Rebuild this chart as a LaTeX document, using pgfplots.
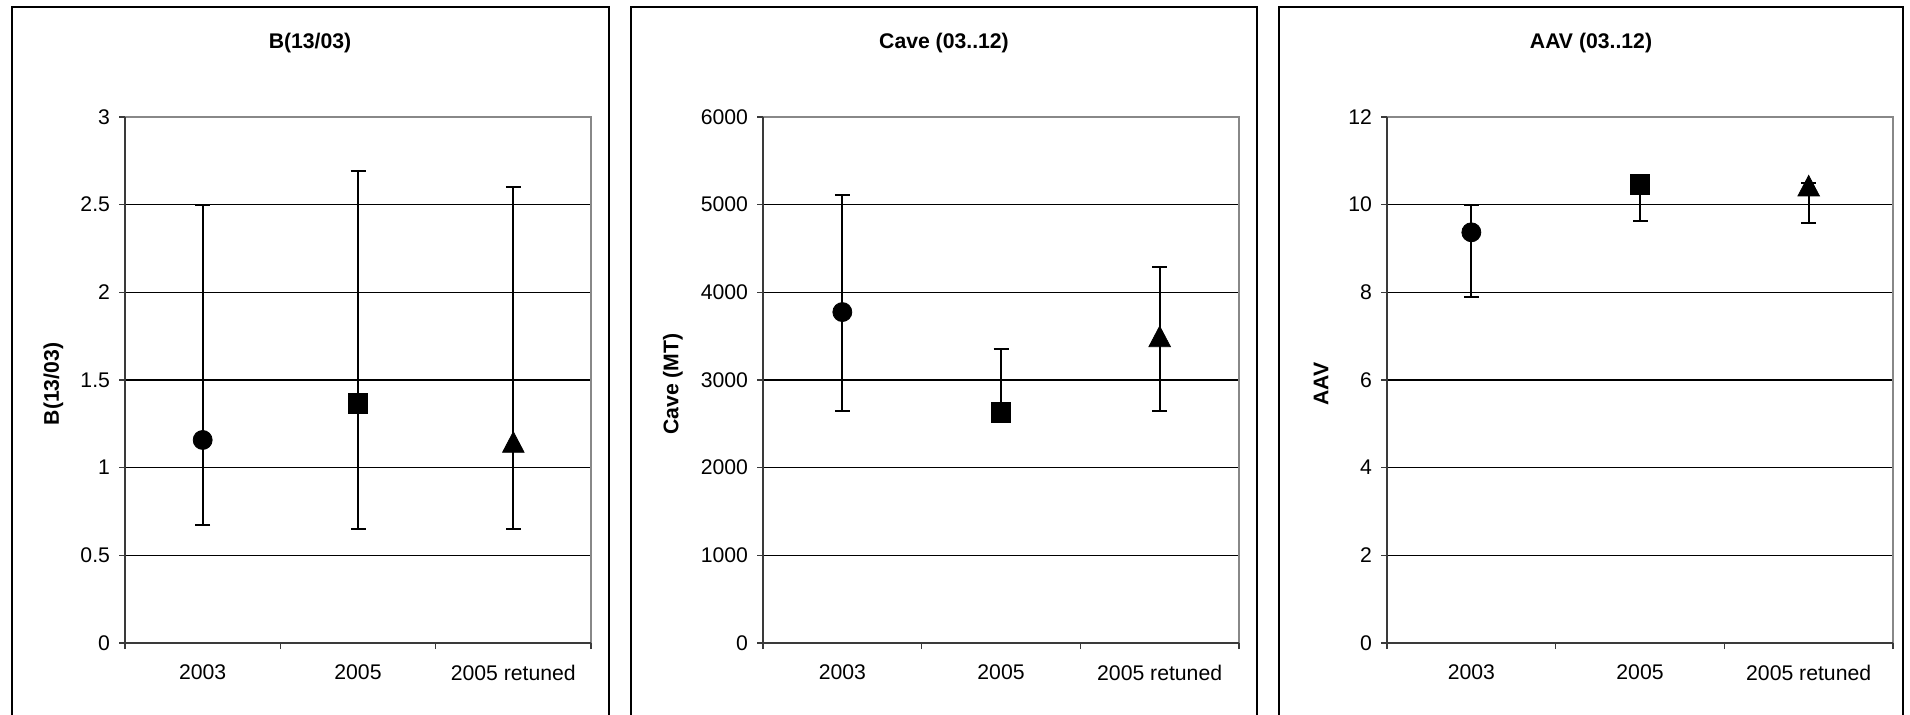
\documentclass[border=0pt]{standalone}
\usepackage{fontspec}
\setmainfont{Liberation Sans}
\usepackage{pgfplots}
\pgfplotsset{compat=1.18}
\definecolor{framegray}{HTML}{888888}
\definecolor{axisdark}{HTML}{3A3A3A}
\newcommand{\fs}{\fontsize{10.6}{12.7}\selectfont}
\pgfplotsset{
  cmn/.style={
    scale only axis, anchor=south west, height=263pt,
    xmin=-0.5, xmax=2.5, ymin=0,
    xtick={0,1,2}, xticklabels={2003,2005,2005 retuned},
    minor xtick={-0.5,0.5,1.5,2.5},
    tick pos=left,
    tick align=outside, major tick length=3pt, minor tick length=3pt,
    major x tick style={draw=none},
    minor x tick style={draw=axisdark, line width=0.7pt},
    y tick style={draw=axisdark, line width=0.7pt},
    ymajorgrids, grid style={black, line width=0.75pt},
    axis line style={draw=none},
    tick label style={font=\fs},
    /pgf/number format/assume math mode=true,
    /pgf/number format/1000 sep={},
    scaled y ticks=false,
    xticklabel style={yshift=-4.5pt},
    yticklabel style={xshift=-1pt},
    clip=false,
  },
  eb/.style={black, only marks,
    error bars/.cd, y dir=both, y explicit,
    error bar style={line width=1pt, black},
    error mark options={line width=1pt, mark size=3.75pt, black, rotate=90},
    /pgfplots/.cd},
  mcirc/.style={mark=*, mark size=4.75pt, mark options={fill=black, draw=none}},
  msq/.style={mark=square*, mark size=4.9pt, mark options={fill=black, draw=none}},
  mtri/.style={mark=triangle*, mark size=6.2pt, mark options={fill=black, draw=none, yscale=1.1, yshift=-1.7pt}},
}
\newcommand{\frameit}{%
  \draw[framegray, line width=1pt] (rel axis cs:0,1) -- (rel axis cs:1,1) -- (rel axis cs:1,0);
  \draw[axisdark, line width=0.75pt] (rel axis cs:0,1) -- (rel axis cs:0,0) -- (rel axis cs:1,0);
}
\begin{document}
\begin{tikzpicture}
\path[use as bounding box] (0,0) rectangle (955pt,357pt);
% outer boxes
\draw[line width=1pt] (6pt,-5pt) rectangle (304.5pt,353.5pt);
\draw[line width=1pt] (315.5pt,-5pt) rectangle (628.5pt,353.5pt);
\draw[line width=1pt] (639.5pt,-5pt) rectangle (951.5pt,353.5pt);

% Panel 1
\begin{axis}[cmn, at={(62.5pt,35.5pt)}, width=233pt, ymax=3, ytick={0,0.5,1,1.5,2,2.5,3}]
\addplot+[mcirc, eb] coordinates {(0,1.158) += (0,1.342) -= (0,0.483)};
\addplot+[msq, eb] coordinates {(1,1.366) += (0,1.324) -= (0,0.717)};
\addplot+[mtri, eb] coordinates {(2,1.148) += (0,1.452) -= (0,0.499)};
\frameit
\end{axis}

% Panel 2
\begin{axis}[cmn, at={(381.5pt,35.5pt)}, width=238pt, ymax=6000, ytick={0,1000,2000,3000,4000,5000,6000}]
\addplot+[mcirc, eb] coordinates {(0,3775) += (0,1337) -= (0,1126)};
\addplot+[msq, eb] coordinates {(1,2632) += (0,724) -= (0,30)};
\addplot+[mtri, eb] coordinates {(2,3501) += (0,790) -= (0,852)};
\frameit
\end{axis}

% Panel 3
\begin{axis}[cmn, at={(693.5pt,35.5pt)}, width=253pt, ymax=12, ytick={0,2,4,6,8,10,12}]
\addplot+[mcirc, eb] coordinates {(0,9.37) += (0,0.63) -= (0,1.47)};
\addplot+[msq, eb] coordinates {(1,10.465) += (0,0.035) -= (0,0.835)};
\addplot+[mtri, eb] coordinates {(2,10.44) += (0,0.05) -= (0,0.865)};
\frameit
\end{axis}

% titles
\node[font=\fs\bfseries] at (155pt,335.5pt) {B(13/03)};
\node[font=\fs\bfseries] at (472pt,335.5pt) {Cave (03..12)};
\node[font=\fs\bfseries] at (795.5pt,335.5pt) {AAV (03..12)};
% y labels
\node[font=\fs\bfseries, rotate=90] at (26.7pt,165pt) {B(13/03)};
\node[font=\fs\bfseries, rotate=90] at (336.5pt,165pt) {Cave (MT)};
\node[font=\fs\bfseries, rotate=90] at (660.5pt,165pt) {AAV};
\end{tikzpicture}
\end{document}
